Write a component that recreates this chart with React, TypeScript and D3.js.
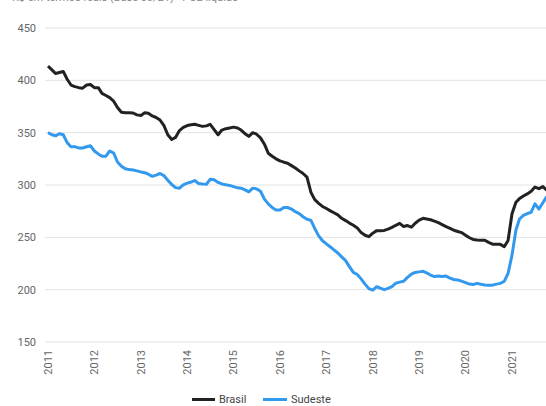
import * as d3 from "d3";

// monthly series, Jan 2011 onwards
const startMonth = new Date(2011, 0, 1);

const brasil = [
  413.5, 410, 406.5, 407.5, 408.5, 401, 395.5, 394, 393, 392.5, 395.5, 396,
  393, 393, 387.5, 385.5, 383.5, 380, 374, 369.5, 369, 369, 368.8, 367,
  366.5, 369, 368.5, 366, 364.5, 362, 357, 348, 343.5, 345.5, 352, 355,
  356.8, 357.5, 358, 357, 356, 356.5, 358, 353, 348, 352.5, 353.8, 354.5,
  355.3, 354.5, 352.5, 349, 346.5, 350, 348.5, 345, 339, 330.3, 327.5, 325,
  323, 321.8, 320.8, 318.5, 316.3, 313.5, 311, 307.5, 293, 286, 282.5, 279.5,
  277.5, 275.3, 273.5, 271.5, 268.2, 266, 263.6, 261.5, 259, 254.5, 252, 250.6,
  254, 256.4, 256.4, 256.6, 257.8, 259.5, 261.5, 263.4, 260.3, 261.3, 259.7, 263.5,
  266.5, 268.2, 267.5, 266.8, 265.5, 264, 262.2, 260.2, 258.5, 256.8, 255.6, 254.5,
  252, 249.6, 248, 247.5, 247.3, 247.2, 245.2, 243.5, 243.4, 243.3, 241, 247,
  272.5, 283.5, 287, 289.5, 291.5, 294, 298, 296.5, 298.5, 295,
];

const sudeste = [
  350, 348, 347, 349, 348, 340.5, 336.6, 336.6, 335.3, 335.3, 336.5, 337.5,
  332.5, 329.7, 327.5, 327.5, 332.5, 330.5, 322, 318, 315.5, 314.7, 314.3, 313.5,
  312.5, 311.7, 310.3, 308.3, 309.5, 311, 309, 304.5, 300.5, 297.5, 297, 300.2,
  301.8, 302.8, 304.3, 301.5, 301, 300.6, 305.5, 305, 302.5, 301, 300.2, 299.6,
  298.5, 297.3, 297, 295.4, 293.5, 297, 296.3, 294, 286.5, 282, 278.5, 276,
  276.1, 278.6, 278.5, 277, 274.5, 272.6, 269.7, 267.3, 266.2, 258.5, 251.4, 246.7,
  243.7, 240.8, 238, 235, 231.3, 227.7, 222, 216.5, 214.5, 210.3, 205.3, 201,
  199.5, 202.8, 201.5, 200, 201.2, 203, 206.2, 207.2, 208, 211.7, 214.8, 216.5,
  217, 217.5, 216, 214, 212.5, 213, 212.5, 213, 211, 209.7, 209.2, 208.2,
  206.8, 205.3, 205, 206, 205.2, 204.5, 204.3, 204.3, 205.3, 206, 208, 215.5,
  233, 257, 267.5, 271, 272.7, 274, 282, 277, 283, 289,
];

const yTicks = [150, 200, 250, 300, 350, 400, 450];
const yearTicks = [2011, 2012, 2013, 2014, 2015, 2016, 2017, 2018, 2019, 2020, 2021];

const seriesNames = ["Brasil", "Sudeste"];
const seriesColors = ["#222222", "#3399ee"];

const W = 546;
const H = 406;

export default function App() {
  const months = brasil.map((_, i) => d3.timeMonth.offset(startMonth, i));

  const x = d3
    .scaleTime()
    .domain([new Date(2011, 0, 1), new Date(2021, 0, 1)])
    .range([48, 512]);
  const y = d3.scaleLinear().domain([150, 450]).range([342, 28]);

  const line = d3
    .line<number>()
    .x((_, i) => x(months[i]))
    .y((d) => y(d));

  const font = "Roboto, Arial, sans-serif";

  return (
    <svg
      width={W}
      height={H}
      style={{ position: "absolute", left: 0, top: 0, background: "#fff" }}
    >
      {/* title, cut off at the top like the source */}
      <text x={12} y={1} fontFamily={font} fontSize={11} fill="#888">
        R$ em termos reais (Base 03/21) - PCE líquido
      </text>

      {/* grid + y labels */}
      {yTicks.map((t) => (
        <g key={t}>
          <line x1={45} x2={W} y1={y(t)} y2={y(t)} stroke="#e3e3e3" strokeWidth={1} />
          <text
            x={36}
            y={y(t)}
            dy="0.35em"
            textAnchor="end"
            fontFamily={font}
            fontSize={11}
            fill="#666"
          >
            {t}
          </text>
        </g>
      ))}

      {/* x labels, rotated */}
      {yearTicks.map((yr) => {
        const px = x(new Date(yr, 0, 1));
        return (
          <text
            key={yr}
            transform={`translate(${px},350) rotate(-90)`}
            dy="0.35em"
            textAnchor="end"
            fontFamily={font}
            fontSize={11}
            fill="#666"
          >
            {yr}
          </text>
        );
      })}

      {/* lines */}
      {[brasil, sudeste].map((s, i) => (
        <path
          key={seriesNames[i]}
          d={line(s) ?? ""}
          fill="none"
          stroke={seriesColors[i]}
          strokeWidth={3}
          strokeLinejoin="round"
        />
      ))}

      {/* legend */}
      <g fontFamily={font} fontSize={11} fill="#444">
        <line x1={192} x2={215} y1={399.5} y2={399.5} stroke={seriesColors[0]} strokeWidth={3} />
        <text x={219} y={399.5} dy="0.35em">
          {seriesNames[0]}
        </text>
        <line x1={263} x2={287} y1={399.5} y2={399.5} stroke={seriesColors[1]} strokeWidth={3} />
        <text x={291} y={399.5} dy="0.35em">
          {seriesNames[1]}
        </text>
      </g>
    </svg>
  );
}
